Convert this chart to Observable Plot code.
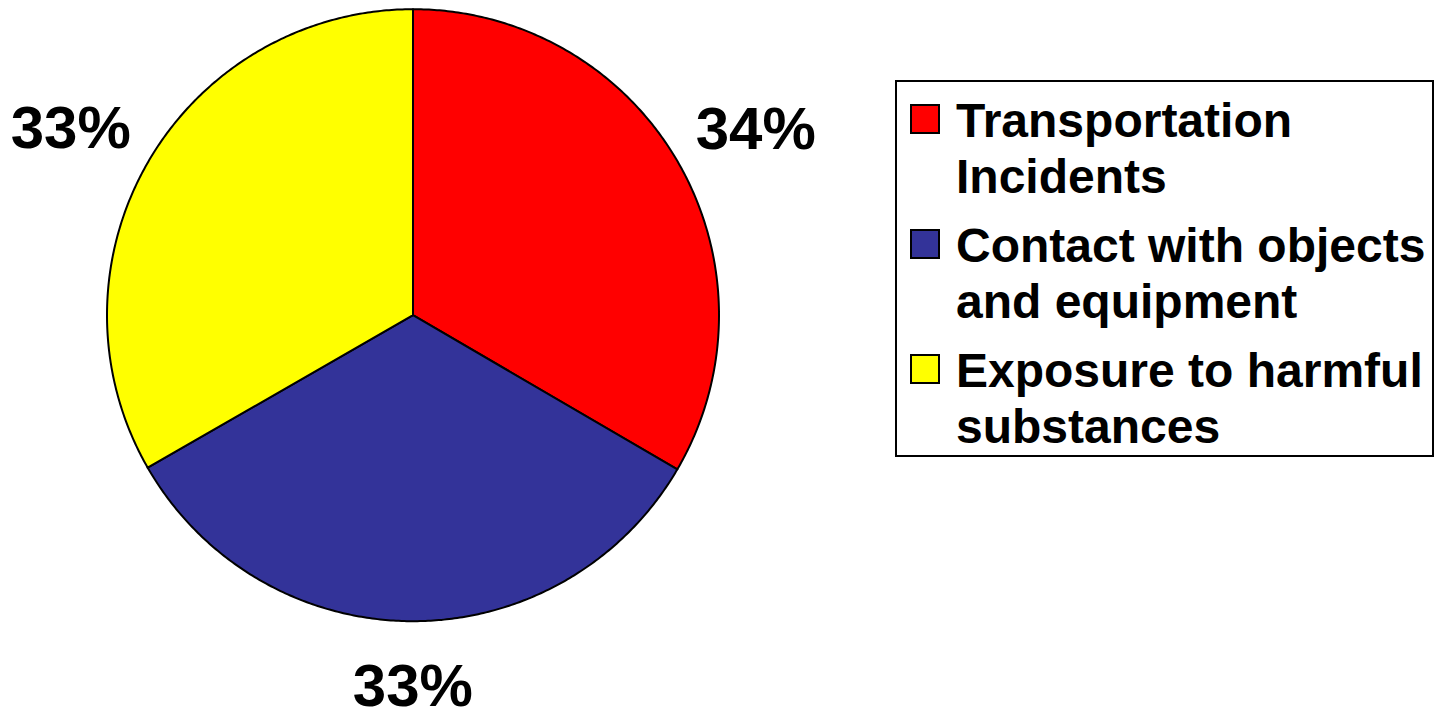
<!DOCTYPE html>
<html>
<head>
<meta charset="utf-8">
<script src="https://cdn.jsdelivr.net/npm/d3@7"></script>
<script src="https://cdn.jsdelivr.net/npm/@observablehq/plot@0.6"></script>
<style>
  html, body { margin: 0; padding: 0; background: #fff; }
  #wrap { position: relative; width: 1434px; height: 708px; overflow: hidden; font-family: "Liberation Sans", Arial, sans-serif; }
  #wrap svg { position: absolute; left: 0; top: 0; }
  #legend { position: absolute; left: 895px; top: 80px; width: 539px; height: 377px; box-sizing: border-box; border: 2px solid #000; background: #fff; }
  .item { position: absolute; left: 0; }
  .sw { position: absolute; left: 13px; top: 11px; width: 30px; height: 30px; box-sizing: border-box; border: 2px solid #000; }
  .lab { position: absolute; left: 59px; top: 0; width: 480px; font-weight: bold; font-size: 48px; line-height: 56px; color: #000; white-space: nowrap; }
</style>
</head>
<body>
<div id="wrap"></div>
<script>
// ---- data ----
const categories = ["Transportation Incidents", "Contact with objects and equipment", "Exposure to harmful substances"];
const legendLines = [["Transportation", "Incidents"], ["Contact with objects", "and equipment"], ["Exposure to harmful", "substances"]];
const values = [33.4, 33.3, 33.3];
const pctLabels = ["34%", "33%", "33%"];
const colors = ["#FF0000", "#333399", "#FFFF00"];

// ---- geometry from data ----
const arcs = d3.pie().sort(null).value(d => d)(values);
const slices = [];
arcs.forEach((a, i) => {
  slices.push({cat: categories[i], x: 0, y: 0});
  const steps = Math.max(2, Math.ceil((a.endAngle - a.startAngle) / (Math.PI / 360)));
  for (let k = 0; k <= steps; k++) {
    const t = a.startAngle + (a.endAngle - a.startAngle) * k / steps;
    slices.push({cat: categories[i], x: Math.sin(t), y: Math.cos(t)});
  }
});
const labR = 348 / 306;
const labels = arcs.map((a, i) => {
  const m = (a.startAngle + a.endAngle) / 2;
  const s = Math.sin(m), c = Math.cos(m);
  return {
    text: pctLabels[i],
    x: labR * s, y: labR * c,
    anchor: s > 0.3 ? "start" : s < -0.3 ? "end" : "middle",
    line: c > 0 ? "bottom" : "top"
  };
});
const labelStyle = {
  start: {dx: -19, dy: 7},
  end: {dx: 19, dy: 7},
  middle: {dx: 1, dy: 0}
};

const W = 1434, H = 708, cx = 412.5, cy = 314.7, R = 306;
const chart = Plot.plot({
  width: W, height: H,
  marginLeft: cx - R, marginRight: W - (cx + R),
  marginTop: cy - R, marginBottom: H - (cy + R),
  x: {domain: [-1, 1], axis: null},
  y: {domain: [-1, 1], axis: null},
  color: {domain: categories, range: colors},
  style: {background: "transparent", overflow: "visible"},
  marks: [
    Plot.line(slices, {x: "x", y: "y", z: "cat", fill: "cat", stroke: "#000", strokeWidth: 2, curve: "linear-closed", strokeLinejoin: "round"}),
    ...["start", "end", "middle"].map(anc => {
      const sub = labels.filter(d => d.anchor === anc);
      return Plot.text(sub, {x: "x", y: "y", text: "text", textAnchor: anc,
        lineAnchor: sub.length ? sub[0].line : "bottom",
        dx: labelStyle[anc].dx, dy: labelStyle[anc].dy,
        fontSize: 60, fontWeight: "bold", fill: "#000",
        fontFamily: "Liberation Sans, Arial, sans-serif"});
    })
  ]
});
document.getElementById("wrap").appendChild(chart);

// ---- legend ----
const legend = d3.select("#wrap").append("div").attr("id", "legend");
categories.forEach((c, i) => {
  const it = legend.append("div").attr("class", "item").style("top", (11 + i * 125) + "px");
  it.append("div").attr("class", "sw").style("background", colors[i]);
  it.append("div").attr("class", "lab").html(legendLines[i].join("<br>"));
});
</script>
</body>
</html>
